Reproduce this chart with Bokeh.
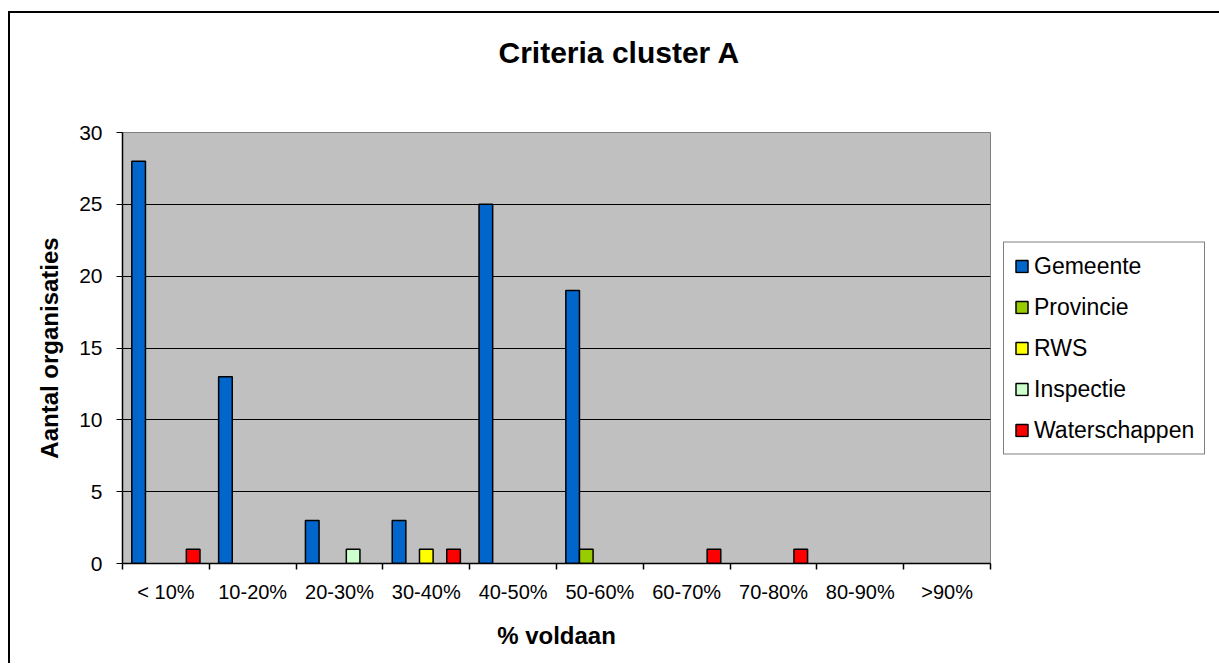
from bokeh.plotting import figure
from bokeh.layouts import column
from bokeh.models import (FixedTicker, Legend, LegendItem, ColumnDataSource, Range1d, Title)
from bokeh.embed import file_html
from bokeh.resources import INLINE

categories = ["< 10%", "10-20%", "20-30%", "30-40%", "40-50%", "50-60%", "60-70%", "70-80%", "80-90%", ">90%"]
series_names = ["Gemeente", "Provincie", "RWS", "Inspectie", "Waterschappen"]
gemeente = [28, 13, 3, 3, 25, 19, 0, 0, 0, 0]
provincie = [0, 0, 0, 0, 0, 1, 0, 0, 0, 0]
rws = [0, 0, 0, 1, 0, 0, 0, 0, 0, 0]
inspectie = [0, 0, 1, 0, 0, 0, 0, 0, 0, 0]
waterschappen = [1, 0, 0, 1, 0, 0, 1, 1, 0, 0]
colors = ["#0066CC", "#99CC00", "#FFFF00", "#CCFFCC", "#FF0000"]
yticks = [0, 5, 10, 15, 20, 25, 30]

FONT = "Liberation Sans"

p = figure(frame_width=868, frame_height=431, output_backend="svg", toolbar_location=None,
           title="Criteria cluster A",
           x_range=Range1d(0, len(categories)), y_range=Range1d(0, 30),
           min_border_left=112, min_border_top=119, min_border_right=229, min_border_bottom=100)
p.background_fill_color = "#C0C0C0"
p.border_fill_color = "white"
p.outline_line_color = "#808080"
p.outline_line_width = 1

p.title.align = "left"
p.title.offset = 376
p.title.standoff = 10
p.title.vertical_align = "bottom"
p.title.text_font = FONT
p.title.text_font_size = "30px"
p.title.text_font_style = "bold"
p.title.text_color = "black"

# empty spacer between the title and the plot area
spacer = Title(text=" ", text_font=FONT, text_font_size="30px", standoff=24)
p.add_layout(spacer, "above")

all_series = [gemeente, provincie, rws, inspectie, waterschappen]
bw = 0.157
items = []
for k, (name, vals, col) in enumerate(zip(series_names, all_series, colors)):
    xs = [i + 0.5 + (k - 2) * bw for i, v in enumerate(vals) if v > 0]
    tops = [v for v in vals if v > 0]
    src = ColumnDataSource(dict(x=xs, top=tops))
    r = p.vbar(x="x", top="top", bottom=0, width=bw, source=src,
               fill_color=col, line_color="black", line_width=1.5)
    items.append(LegendItem(label=name, renderers=[r]))

legend = Legend(items=items, location="left", ncols=1, border_line_color="black", border_line_width=1.5,
                background_fill_color="white", background_fill_alpha=1.0,
                label_text_font=FONT, label_text_font_size="23px", label_text_color="black",
                glyph_width=15, glyph_height=15, label_standoff=5, padding=10, spacing=14, margin=13)
p.add_layout(legend, "right")

# axes
xa = p.xaxis[0]
xa.ticker = FixedTicker(ticks=[i + 0.5 for i in range(len(categories))],
                        minor_ticks=list(range(len(categories) + 1)))
xa.major_label_overrides = {i + 0.5: c for i, c in enumerate(categories)}
xa.major_tick_out = 0
xa.major_tick_in = 0
xa.minor_tick_out = 6
xa.minor_tick_in = 0
xa.minor_tick_line_color = "black"
xa.minor_tick_line_width = 1.5
xa.axis_line_color = "black"
xa.axis_line_width = 1.5
xa.major_label_text_font = FONT
xa.major_label_text_font_size = "20px"
xa.major_label_text_color = "black"
xa.major_label_standoff = 11
xa.axis_label = "% voldaan"
xa.axis_label_text_font = FONT
xa.axis_label_text_font_size = "24px"
xa.axis_label_text_font_style = "bold"
xa.axis_label_text_color = "black"
xa.axis_label_standoff = 16

ya = p.yaxis[0]
ya.ticker = FixedTicker(ticks=yticks, minor_ticks=[])
ya.major_tick_out = 6
ya.major_tick_in = 0
ya.major_tick_line_color = "black"
ya.axis_line_color = "black"
ya.axis_line_width = 1.5
ya.major_label_text_font = FONT
ya.major_label_text_font_size = "21px"
ya.major_label_text_color = "black"
ya.major_label_standoff = 14
ya.axis_label = "Aantal organisaties"
ya.axis_label_text_font = FONT
ya.axis_label_text_font_size = "24px"
ya.axis_label_text_font_style = "bold"
ya.axis_label_text_color = "black"
ya.axis_label_standoff = 13

p.xgrid.grid_line_color = None
p.ygrid.ticker = FixedTicker(ticks=yticks)
p.ygrid.grid_line_color = "black"
p.ygrid.grid_line_width = 1

layout = column(p, styles={"margin-left": "8px", "margin-top": "11px",
                           "border-left": "2px solid black", "border-top": "2px solid black",
                           "border-right": "0px solid white", "border-bottom": "0px solid white",
                           "outline": "none", "box-shadow": "none"})

open("out.html", "w").write(file_html(layout, INLINE))
